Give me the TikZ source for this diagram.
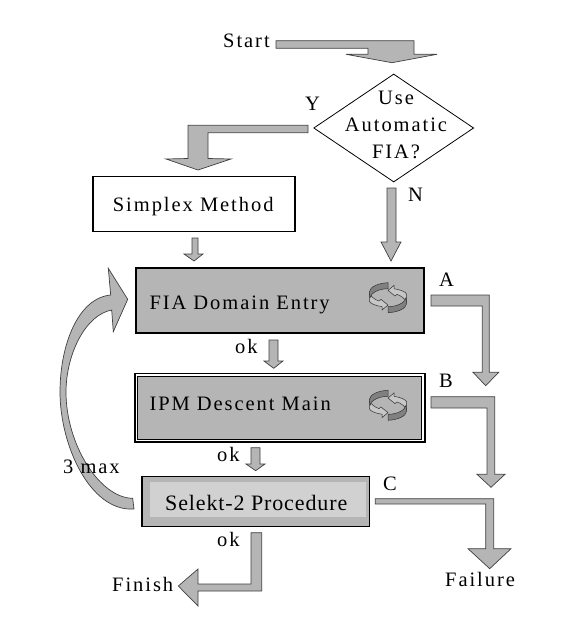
\documentclass[tikz,border=0pt]{standalone}
\usepackage{fontspec}
\usetikzlibrary{shapes.geometric}
\setmainfont[LetterSpace=9.5]{Liberation Serif}
\newfontfamily\tightfont[LetterSpace=4]{Liberation Serif}
\definecolor{boxgray}{gray}{0.71}
\definecolor{lightgray2}{gray}{0.82}
\definecolor{darkband}{gray}{0.5}
\definecolor{pale}{gray}{0.78}
\tikzstyle{lbl} = [inner sep=0pt, anchor=base west, font=\fontsize{20.5}{26.6}\selectfont]
\tikzstyle{plainbox} = [rectangle, draw=black, line width=1.5pt, inner sep=0pt]
\tikzstyle{blockarrow} = [draw=black!75, line width=0.7pt, fill=boxgray, line join=miter]
\tikzset{cycleicon/.pic={
  \foreach \r in {0,180} {
    \begin{scope}[rotate=\r]
      \draw [black!80, line width=0.5pt, fill=pale] (-18.7,-4.3) .. controls (-17,-1) and (-13,2) .. (-9,3.3)
        -- (-7,1.7) -- (0,7.3) -- (-6,12.3) -- (-6,9) .. controls (-12,8) and (-18,6) .. (-18.7,3.3) -- cycle;
      \draw [black!80, line width=0.5pt, fill=darkband] (0,-15) .. controls (-10,-14.5) and (-18,-11) .. (-18.7,-5.7)
        -- (-18,0) .. controls (-17,-5) and (-9,-9) .. (0,-9) -- cycle;
    \end{scope}
  }
}}
\begin{document}
\begin{tikzpicture}[x=1pt, y=-1pt]
  \useasboundingbox (0,0) rectangle (567,642);

  \node (dia) at (393.7,128) [diamond, draw=black, line width=0.8pt, inner sep=0pt, aspect=1.48, minimum width=160pt, minimum height=108pt] {};
  \node (simplex) at (193.9,204.2) [plainbox, minimum width=202.3pt, minimum height=55pt] {};
  \node (fia) at (280,300.3) [plainbox, fill=boxgray, minimum width=288pt, minimum height=65pt] {};
  \node (ipm) at (280,407.6) [plainbox, fill=white, minimum width=290pt, minimum height=68.5pt] {};
  \node (ipminner) at (279.5,407.6) [rectangle, draw=black, line width=0.6pt, fill=boxgray, inner sep=0pt, minimum width=284pt, minimum height=63pt] {};
  \node (selekt) at (255.5,501.7) [plainbox, fill=boxgray, minimum width=227.5pt, minimum height=50pt] {};
  \node (selektinner) at (258,499.2) [rectangle, fill=lightgray2, inner sep=0pt, minimum width=216pt, minimum height=35pt] {};

  \pic at (388,297.7) {cycleicon};
  \pic at (388,405.3) {cycleicon};

  \coordinate (starttail) at (276,40.7);
  \coordinate (starttip) at (392,62.7);
  \coordinate (ytail) at (308,125.3);
  \coordinate (ytip) at (198,170);
  \coordinate (simplextail) at (192,238);
  \coordinate (simplextip) at (194,261);
  \coordinate (ntail) at (387,188);
  \coordinate (ntip) at (391,261);
  \coordinate (ok1tail) at (269,340);
  \coordinate (ok1tip) at (273.7,368.3);
  \coordinate (ok2tail) at (251,447.7);
  \coordinate (ok2tip) at (255.7,470.7);
  \coordinate (ok3tail) at (251,532.7);
  \coordinate (ok3tip) at (178.3,586);
  \coordinate (atail) at (431,295);
  \coordinate (atip) at (485.7,385.7);
  \coordinate (btail) at (431,396.7);
  \coordinate (btip) at (491,487.3);
  \coordinate (ctail) at (375.3,498.7);
  \coordinate (ctip) at (489.7,568.7);
  \coordinate (looptail) at (132.7,498.3);
  \coordinate (looptip) at (127.7,299.3);

  \draw [blockarrow] (starttail) -- (414,40.7) -- (414,54.3) -- (437,54.3) -- (starttip) -- (346,54.3) -- (368,54.3) -- (368,48.3) -- (276,48.3) -- cycle;
  \draw [blockarrow] (ytail) -- (188,125.3) -- (188,158.5) -- (166,159) -- (ytip) -- (231,159) -- (208,158.5) -- (208,132.7) -- (308,132.7) -- cycle;
  \draw [blockarrow] (simplextail) -- (198,238) -- (198,254) -- (203,254) -- (simplextip) -- (184,254) -- (192,254) -- cycle;
  \draw [blockarrow] (ntail) -- (396,188) -- (396,242) -- (401,242) -- (ntip) -- (381,242) -- (387,242) -- cycle;
  \draw [blockarrow] (ok1tail) -- (278,340) -- (278,361) -- (283,361) -- (ok1tip) -- (264,361) -- (269,361) -- cycle;
  \draw [blockarrow] (ok2tail) -- (260,447.7) -- (260,464) -- (265,464) -- (ok2tip) -- (246,464) -- (251,464) -- cycle;
  \draw [blockarrow] (ok3tail) -- (261.7,532.7) -- (261.7,591) -- (198,591) -- (198,606) -- (ok3tip) -- (198,569) -- (198,584) -- (251,584) -- cycle;
  \draw [blockarrow] (atail) -- (489.3,295) -- (489.3,372.3) -- (498.7,372.3) -- (atip) -- (473,372.3) -- (482.3,372.3) -- (482.3,306) -- (431,306) -- cycle;
  \draw [blockarrow] (btail) -- (494.7,396.7) -- (494.7,474.3) -- (505,474.3) -- (btip) -- (477,474.3) -- (487,474.3) -- (487,408) -- (431,408) -- cycle;
  \draw [blockarrow] (ctail) -- (493.7,498.7) -- (493.7,548.7) -- (511,548.7) -- (ctip) -- (468,548.7) -- (485.7,548.7) -- (485.7,504) -- (375.3,504) -- cycle;
  \draw [blockarrow] (looptail) .. controls (100,498) and (66,445) .. (66,392) .. controls (66,355) and (85,315) .. (111.7,310)
    -- (113.3,331.7) -- (looptip) -- (108.3,268.3) -- (110.7,295) .. controls (78,298) and (60,345) .. (60,392)
    .. controls (60,445) and (90,512) .. (134,509) -- cycle;

  \node (start) at (223,48) [lbl] {Start};
  \node (usefia) at (396,125) [lbl, anchor=center, align=center] {Use\\Automatic\\FIA?};
  \node (simplextext) at (112.7,211.7) [lbl] {Simplex Method};
  \node (fiatext) at (149.3,309) [lbl] {FIA Domain Entry};
  \node (ipmtext) at (149.3,410) [lbl] {IPM Descent Main};
  \node (selekttext) at (165,510) [lbl, font=\fontsize{22}{26}\tightfont] {Selekt-2 Procedure};
  \node (labely) at (305,110) [lbl] {Y};
  \node (labeln) at (408,201) [lbl] {N};
  \node (labela) at (439,286) [lbl] {A};
  \node (labelb) at (439,387.7) [lbl] {B};
  \node (labelc) at (383,490) [lbl] {C};
  \node (ok1) at (235,353.5) [lbl] {ok};
  \node (ok2) at (217,461) [lbl] {ok};
  \node (ok3) at (217,546) [lbl] {ok};
  \node (finish) at (112,591.7) [lbl] {Finish};
  \node (failure) at (445,586) [lbl] {Failure};
  \node (three) at (63,473) [lbl] {3 max};
\end{tikzpicture}
\end{document}
